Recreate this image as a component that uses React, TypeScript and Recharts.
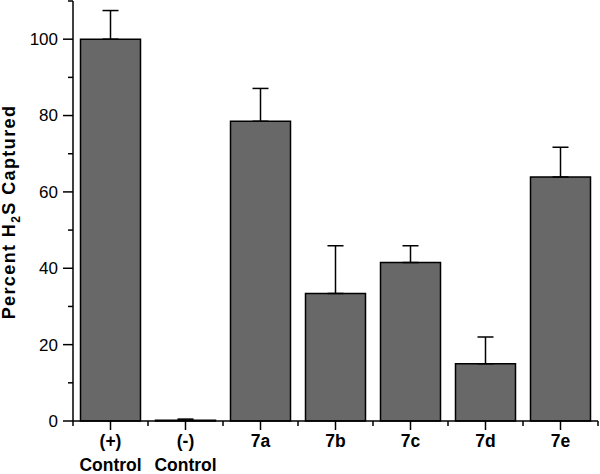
import { BarChart, Bar, XAxis, YAxis, ErrorBar } from "recharts";

const categories = ["(+)\nControl", "(-)\nControl", "7a", "7b", "7c", "7d", "7e"];
const percentCaptured = [100, 0.2, 78.5, 33.4, 41.5, 15, 63.9];
const errorUp = [7.5, 0.3, 8.6, 12.5, 4.4, 7, 7.8];
const yTicks = [0, 10, 20, 30, 40, 50, 60, 70, 80, 90, 100, 110];

const WIDTH = 600;
const HEIGHT = 474;
const Y_AXIS_W = 73;
const X_AXIS_H = 53;
const RIGHT = 2;
const TOP = 1;
const BAND = (WIDTH - Y_AXIS_W - RIGHT) / categories.length;
const FONT = "'Liberation Sans', Arial, Helvetica, sans-serif";

const data = categories.map((name, i) => ({
  name,
  value: percentCaptured[i],
  err: [0, errorUp[i]],
}));

function YTick(props: any) {
  const { x, y, payload } = props;
  const axisX = x + 15;
  const major = payload.value % 20 === 0 && payload.value <= 100;
  return (
    <g>
      <line
        x1={major ? axisX - 10 : axisX - 5}
        x2={axisX}
        y1={y}
        y2={y}
        stroke="#000"
        strokeWidth={1.5}
      />
      {major && (
        <text
          x={axisX - 15}
          y={y}
          dy="0.35em"
          textAnchor="end"
          fontFamily={FONT}
          fontSize={17}
          fill="#000"
        >
          {payload.value}
        </text>
      )}
    </g>
  );
}

function XTick(props: any) {
  const { x, y, payload, index } = props;
  const axisY = y - 9;
  const lines = String(payload.value).split("\n");
  return (
    <g>
      <line x1={x} x2={x} y1={axisY} y2={axisY + 9} stroke="#000" strokeWidth={1.5} />
      <line
        x1={x - BAND / 2}
        x2={x - BAND / 2}
        y1={axisY}
        y2={axisY + 5}
        stroke="#000"
        strokeWidth={1.5}
      />
      {index === categories.length - 1 && (
        <line
          x1={x + BAND / 2}
          x2={x + BAND / 2}
          y1={axisY}
          y2={axisY + 5}
          stroke="#000"
          strokeWidth={1.5}
        />
      )}
      {lines.map((t, i) => (
        <text
          key={i}
          x={x}
          y={axisY + 26 + i * 24}
          textAnchor="middle"
          fontFamily={FONT}
          fontWeight="bold"
          fontSize={17.5}
          fill="#000"
        >
          {t}
        </text>
      ))}
    </g>
  );
}

function YLabel(props: any) {
  const { viewBox } = props;
  const cy = viewBox.y + viewBox.height / 2 + 1;
  const cx = 14.5;
  return (
    <text
      x={cx}
      y={cy}
      transform={`rotate(-90, ${cx}, ${cy})`}
      textAnchor="middle"
      fontFamily={FONT}
      fontWeight="bold"
      fontSize={18}
      letterSpacing={1.4}
      fill="#000"
    >
      Percent H
      <tspan fontSize={12} dy={5}>
        2
      </tspan>
      <tspan dy={-5}>S Captured</tspan>
    </text>
  );
}

export default function App() {
  return (
    <div style={{ position: "absolute", left: 0, top: 0, background: "#fff" }}>
      <BarChart
        width={WIDTH}
        height={HEIGHT}
        data={data}
        margin={{ top: TOP, right: RIGHT, bottom: 0, left: 0 }}
        barCategoryGap="10%"
      >
        <XAxis
          dataKey="name"
          interval={0}
          height={X_AXIS_H}
          tickSize={9}
          tickMargin={0}
          tickLine={false}
          axisLine={{ stroke: "#000", strokeWidth: 1.5 }}
          tick={<XTick />}
        />
        <YAxis
          width={Y_AXIS_W}
          domain={[0, 110]}
          ticks={yTicks}
          interval={0}
          tickSize={10}
          tickMargin={5}
          tickLine={false}
          axisLine={{ stroke: "#000", strokeWidth: 1.5 }}
          tick={<YTick />}
          label={<YLabel />}
        />
        <Bar
          dataKey="value"
          fill="#686868"
          stroke="#000"
          strokeWidth={1.5}
          isAnimationActive={false}
        >
          <ErrorBar
            dataKey="err"
            direction="y"
            width={8}
            stroke="#000"
            strokeWidth={1.5}
            isAnimationActive={false}
          />
        </Bar>
      </BarChart>
    </div>
  );
}
